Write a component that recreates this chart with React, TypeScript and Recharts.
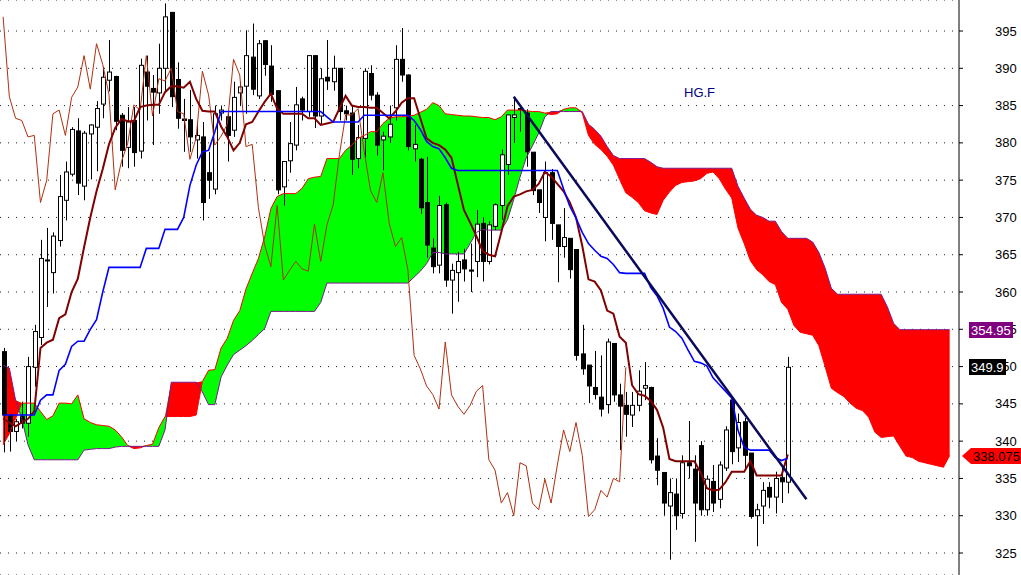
import {
  Area,
  Bar,
  CartesianGrid,
  ComposedChart,
  Line,
  ReferenceLine,
  XAxis,
  YAxis,
} from "recharts";

// HG.F daily candles (oldest first)
const opens = [
  352.0, 343.4, 341.3, 343.3, 342.4, 349.9, 353.9, 364.3, 362.6, 366.9,
  372.3, 375.8, 381.6, 374.2, 381.2, 382.1, 385.2, 388.4, 388.9, 383.7,
  379.4, 383.0, 378.9, 389.5, 387.3, 386.7, 390.0, 397.5, 388.5, 383.2,
  383.1, 380.4, 380.8, 376.0, 373.8, 384.0, 383.5, 381.7, 386.7, 387.6,
  391.5, 386.3, 393.7, 390.3, 387.0, 374.1, 377.6, 379.7, 385.9, 384.2,
  391.7, 383.6, 388.8, 388.2, 390.0, 384.3, 384.0, 377.9, 380.6, 389.3,
  386.4, 380.4, 380.8, 384.7, 391.2, 389.1, 379.2, 377.8, 372.0, 365.9,
  363.6, 371.7, 361.6, 362.6, 364.3, 362.95, 364.1, 369.2, 364.1, 368.8,
  371.6, 377.1, 383.4, 384.5, 384.0, 378.75, 373.7, 370.0, 376.0, 369.0,
  366.1, 367.2, 365.7, 351.7, 350.2, 347.2, 345.9, 344.9, 353.1, 346.2,
  344.8, 343.5, 344.8, 347.1, 347.2, 338.0, 335.8, 331.3, 332.9, 330.3,
  337.1, 336.25, 339.4, 330.8, 334.6, 332.2, 336.4, 345.5, 339.1, 342.6,
  338.4, 330.0, 331.3, 333.8, 332.5, 335.1, 334.5,
];
const highs = [
  352.5, 343.6, 343.0, 345.3, 351.3, 355.6, 367.0, 368.6, 368.0, 375.7,
  377.5, 382.1, 383.3, 381.6, 382.5, 385.6, 390.2, 393.8, 389.0, 384.0,
  384.8, 384.8, 391.3, 391.7, 389.1, 393.3, 398.7, 397.5, 390.8, 385.9,
  387.1, 382.8, 382.8, 378.8, 385.0, 385.0, 384.2, 388.2, 388.2, 395.1,
  396.0, 393.8, 393.8, 393.1, 387.0, 377.5, 382.8, 387.5, 386.2, 391.7,
  391.7, 390.0, 393.8, 391.7, 390.0, 385.0, 385.0, 382.4, 390.0, 390.4,
  386.8, 381.5, 385.0, 393.1, 395.4, 389.2, 382.4, 378.0, 378.1, 367.2,
  372.9, 372.0, 363.8, 365.4, 365.8, 366.5, 371.0, 370.0, 369.5, 371.9,
  379.1, 383.75, 386.2, 384.9, 384.5, 378.75, 373.7, 377.5, 376.5, 369.0,
  371.25, 367.2, 365.7, 355.6, 350.2, 352.1, 351.5, 353.75, 353.1, 347.7,
  346.6, 346.6, 349.5, 350.6, 347.3, 340.4, 335.8, 335.0, 335.0, 338.1,
  342.7, 338.1, 340.0, 335.4, 336.8, 337.3, 342.0, 345.8, 343.7, 343.1,
  338.4, 331.6, 334.5, 334.5, 335.9, 336.8, 351.3,
];
const lows = [
  338.5, 338.6, 340.0, 341.7, 340.6, 347.3, 352.9, 358.0, 359.8, 366.1,
  369.6, 375.5, 373.0, 372.3, 375.1, 376.2, 383.3, 386.9, 381.7, 376.8,
  376.6, 376.8, 377.9, 383.0, 379.7, 383.9, 386.7, 384.8, 381.9, 378.8,
  378.8, 377.9, 369.6, 372.5, 373.1, 383.0, 377.5, 380.8, 385.0, 383.9,
  386.4, 385.9, 389.0, 385.5, 373.1, 371.6, 376.0, 379.0, 383.0, 383.5,
  382.0, 382.4, 387.1, 387.0, 383.0, 383.0, 375.7, 376.6, 378.0, 385.7,
  378.3, 376.3, 380.0, 383.0, 388.2, 379.0, 377.5, 370.5, 364.6, 362.5,
  362.5, 360.7, 357.1, 358.7, 361.4, 360.0, 362.0, 361.4, 363.7, 368.3,
  369.7, 375.7, 380.0, 381.5, 376.8, 373.0, 370.6, 366.8, 367.0, 361.3,
  364.6, 361.8, 350.8, 348.9, 345.1, 345.6, 343.3, 343.7, 345.3, 338.8,
  340.6, 341.9, 344.0, 345.5, 337.0, 334.1, 330.1, 324.1, 328.1, 329.6,
  335.0, 326.5, 330.0, 330.0, 330.5, 331.0, 336.0, 336.9, 337.2, 336.3,
  329.6, 325.9, 328.9, 331.0, 330.3, 331.7, 333.0,
];
const closes = [
  343.5, 341.3, 342.6, 342.4, 350.0, 354.7, 364.5, 364.2, 367.5, 372.8,
  376.1, 381.8, 374.6, 381.3, 382.4, 384.6, 388.8, 389.5, 382.9, 379.0,
  382.8, 378.7, 390.4, 387.6, 386.8, 390.0, 396.9, 386.2, 383.3, 383.0,
  380.8, 381.0, 372.0, 375.0, 383.9, 384.4, 381.0, 386.1, 387.5, 391.7,
  387.2, 393.3, 390.5, 386.5, 373.7, 377.5, 379.9, 385.1, 384.4, 391.7,
  383.6, 388.6, 388.3, 390.0, 384.2, 383.9, 377.8, 380.7, 389.6, 386.4,
  379.7, 380.9, 382.5, 391.2, 389.1, 379.5, 379.8, 371.3, 366.3, 363.4,
  371.6, 361.6, 362.9, 364.1, 363.1, 362.8, 369.1, 364.1, 369.0, 371.7,
  378.4, 383.75, 383.75, 384.6, 378.8, 373.6, 372.0, 376.0, 369.2, 366.1,
  367.3, 363.0, 351.5, 349.7, 347.4, 346.25, 344.3, 353.3, 346.2, 344.7,
  343.6, 344.8, 346.7, 347.45, 337.5, 336.1, 331.7, 333.1, 330.0, 337.1,
  336.7, 331.7, 330.8, 334.9, 331.7, 336.8, 341.5, 338.6, 342.5, 338.1,
  329.9, 330.8, 333.4, 332.5, 335.0, 334.55, 349.9,
];

// conversion line (maroon) and base line (blue)
const tenkan = [
  343, 342.5, 342, 342.5, 343, 344, 352.5, 353.2, 353.6, 356.5,
  357, 360, 361.8, 366, 370, 373.5, 376.5, 379.8, 382, 383.2,
  382.9, 382.9, 384.8, 385, 385.1, 385.1, 386.8, 387.6, 387.6, 387.4,
  388.2, 385.9, 384.3, 384.2, 384.2, 382.2, 380.8, 379.0, 380, 382.5,
  382.8, 384.2, 385.5, 386.6, 384.6, 383.9, 383.9, 383.9, 383.9, 383.3,
  383.3, 382.4, 382.6, 382.8, 384.6, 386.3, 385, 384.8, 384.8, 384.7,
  384.7, 384.0, 383.3, 384.2, 385.4, 386, 386, 383.3, 380.6, 380,
  379.7, 379.1, 378, 374.5, 371, 369.3, 367.5, 365.5, 365, 364.8,
  368, 371.5, 372.8, 373.1, 373.5, 373.7, 374.5, 376.1, 375.5, 374.5,
  373.5, 372, 370, 366.2, 361.7, 361.4, 360.2, 357.5, 357.1, 354,
  353.2, 347.5, 346.3, 346.1, 345.4, 344.2, 341.8, 337.6, 337.3, 337.3,
  337.3, 337.3, 335.8, 333.7, 333.4, 333.5, 334.5, 335.9, 335.9, 335.9,
  337.3, 335.4, 335.4, 335.4, 335.4, 335.4, 338.2,
];
const kijun = [
  343.5, 343.5, 343.5, 343.5, 343.5, 343.5, 345.5, 346.2, 346.2, 349.5,
  350.3, 352.7, 353.4, 353.4, 355, 356.3, 360, 363.3, 363.3, 363.3,
  363.3, 363.3, 363.3, 365.85, 365.85, 365.85, 368.4, 368.4, 368.4, 370,
  374.3, 377, 378.8, 379, 381.5, 384.2, 384.2, 384.2, 384.2, 384.2,
  384.2, 384.2, 384.2, 384.2, 384.2, 384.2, 384.2, 384.2, 384.2, 384.2,
  384.2, 384.2, 383.5, 382.8, 382.8, 382.8, 382.8, 382.8, 383.7, 383.7,
  383.7, 383.7, 383.7, 383.7, 383.7, 383.7, 383.0, 381.8, 380.2, 379.5,
  379.2, 378.0, 376.6, 376.3, 376.3, 376.3, 376.3, 376.3, 376.3, 376.3,
  376.3, 376.3, 376.3, 376.3, 376.3, 376.3, 376.3, 376.3, 376.3, 376.3,
  373.8, 371.5, 369.9, 368.0, 366.5, 365.6, 364.8, 364.5, 363.7, 362.6,
  362.5, 362.5, 362.5, 362.5, 360.6, 359.5, 357.8, 355.3, 354.7, 353.8,
  352.2, 350.7, 350.5, 350.1, 348.5, 347.6, 346.7, 345.8, 341.5, 339.2,
  338.8, 338.8, 338.8, 338.8, 337.8, 337.4, 337.7,
];

// leading spans, already plotted 26 bars ahead
const spanA = [
  339.5, 341, 343, 345.1, 345.1, 345.1, 344, 342.9, 343.4, 345.1,
  345.1, 345, 346.2, 343, 342.5, 342.2, 342.1, 342, 341.5, 340.6,
  339.4, 339.0, 339.1, 339.4, 339.6, 341.8, 343.3, 343.3, 343.3, 343.3,
  343.3, 343.5, 348.0, 349.5, 349.6, 352.5, 353.8, 356.2, 357.5, 360.4,
  362.5, 364.5, 367.4, 371.2, 372.8, 373.2, 373.2, 373.2, 373.9, 375.2,
  375.4, 375.5, 377.9, 377.9, 377.9, 379.0, 379.7, 380.6, 381.0, 381.5,
  381.5, 382.6, 383.3, 383.5, 383.5, 383.6, 383.7, 384.1, 384.5, 385.4,
  385.0, 383.9, 383.8, 383.7, 383.6, 383.6, 383.5, 383.4, 383.4, 383.1,
  383.5, 384.4, 384.4, 384.4, 384.3, 384.2, 384.2, 384.0, 383.8, 383.9,
  384.5, 384.7, 384.7, 384.0, 381.0, 379.8, 379.1, 378.2, 377.0, 375.1,
  373.3, 372.7, 372.0, 370.9, 370.6, 370.4, 372.3, 373.4, 374.3, 374.7,
  374.8, 374.9, 375.2, 375.9, 376.1, 375.2, 373.8, 372.6, 368.6, 366.5,
  364.2, 363.0, 362.3, 361.4, 361.0, 358.6, 357.7, 355.5, 354.6, 354.4,
  354.2, 352.8, 350.0, 347.1, 346.5, 346.0, 345.1, 344.4, 344.1, 343.2,
  341.2, 340.5, 340.6, 340.7, 339.3, 338.0, 337.8, 337.3, 337.1, 336.9,
  336.7, 336.5, 338.075,
];
const spanB = [
  350.2, 349.8, 345.5, 343, 339.5, 337.5, 337.5, 337.5, 337.5, 337.5,
  337.5, 337.5, 337.5, 338.8, 338.9, 339, 339, 339, 339.2, 339.3,
  339.3, 339.3, 339.3, 339.3, 339.3, 339.3, 341.5, 347.9, 347.9, 347.9,
  347.9, 347.9, 346.6, 344.9, 344.9, 348.6, 350.2, 351.6, 352.2, 352.8,
  353.5, 354.3, 355.1, 357.4, 357.4, 357.4, 357.4, 357.4, 357.4, 357.4,
  357.4, 358.6, 361.2, 361.2, 361.2, 361.2, 361.2, 361.2, 361.2, 361.2,
  361.2, 361.2, 361.2, 361.2, 361.2, 361.2, 362.0, 362.8, 363.8, 365.3,
  365.3, 365.1, 365.1, 365.1, 365.1, 366.5, 368.0, 368.4, 368.3, 368.3,
  368.3, 369.7, 372.4, 375.4, 378.0, 379.6, 381.3, 383.5, 384.2, 384.2,
  384.2, 384.2, 384.2, 384.2, 382.5, 381.8, 380.9, 379.5, 378.3, 377.9,
  377.9, 377.9, 377.9, 377.9, 377.4, 376.8, 376.6, 376.6, 376.6, 376.6,
  376.6, 376.6, 376.6, 376.6, 376.6, 376.6, 376.6, 376.6, 374.2, 372.6,
  371.1, 370.3, 370.0, 369.5, 369.5, 368.1, 367.2, 367.2, 367.2, 367.2,
  366.7, 365.3, 363.2, 360.5, 359.7, 359.7, 359.7, 359.7, 359.7, 359.7,
  359.7, 359.7, 358.0, 355.8, 354.95, 354.95, 354.95, 354.95, 354.95, 354.95,
  354.95, 354.95, 354.95,
];

const yTicks = [325, 330, 335, 340, 345, 350, 355, 360, 365, 370, 375, 380, 385, 390, 395];
// last values shown in tags on the price axis
const tagValues = [354.95, 349.9, 338.075];
const tagTexts = ["354.95", "349.9", "338.075"];
const LAG = 26;
const SLOTS = 154;
const DOMAIN: [number, number] = [322.05, 399.16];
const FONT = "Liberation Sans, Arial, sans-serif";

// the lagging span is the close drawn 26 bars back
const rows = Array.from({ length: SLOTS }, (_, i) => {
  const a = spanA[i];
  const b = spanB[i];
  const hasCloud = a != null && b != null;
  const hasBar = i < closes.length;
  return {
    i,
    open: hasBar ? opens[i] : null,
    high: hasBar ? highs[i] : null,
    low: hasBar ? lows[i] : null,
    close: hasBar ? closes[i] : null,
    hl: hasBar ? [lows[i], highs[i]] : null,
    tenkan: hasBar ? tenkan[i] : null,
    kijun: hasBar ? kijun[i] : null,
    chikou: i + LAG < closes.length ? closes[i + LAG] : null,
    spanA: hasCloud ? a : null,
    spanB: hasCloud ? b : null,
    green: hasCloud ? [b, Math.max(a, b)] : null,
    red: hasCloud ? [a, Math.max(a, b)] : null,
  };
});

const Candle = (props: any) => {
  const { x, y, width, height, payload } = props;
  if (!payload || payload.open == null) return null;
  const { open, close, high, low } = payload;
  const top0 = Math.min(y, y + height);
  const h = Math.abs(height);
  const ppu = high > low ? h / (high - low) : 0;
  const cx = Math.round(x + width / 2) + 0.5;
  const yOf = (v: number) => top0 + (high - v) * ppu;
  const bTop = yOf(Math.max(open, close));
  const bBot = yOf(Math.min(open, close));
  const up = close >= open;
  return (
    <g>
      <line x1={cx} x2={cx} y1={top0} y2={top0 + h} stroke="#000" strokeWidth={1} />
      <rect
        x={cx - 2}
        y={bTop}
        width={4}
        height={Math.max(1, bBot - bTop)}
        fill={up ? "#fff" : "#000"}
        stroke="#000"
        strokeWidth={1}
      />
    </g>
  );
};

// price tags drawn as the ticks of a second, zero-width axis (on top of the price labels)
const TagTick = (props: any) => {
  const { y, payload } = props;
  const v = Number(payload?.value);
  const k = tagValues.findIndex((t) => Math.abs(t - v) < 1e-6);
  if (k < 0 || y == null) return null;
  const yc = Math.round(y);
  const text = tagTexts[k];
  if (k === 2) {
    const l = 962;
    return (
      <g>
        <polygon
          points={`${l},${yc} ${l + 9},${yc - 8} ${l + 59},${yc - 8} ${l + 59},${yc + 8} ${l + 9},${yc + 8}`}
          fill="#ff0000"
        />
        <text x={l + 11} y={yc + 5} fill="#000" fontSize={13} fontFamily={FONT}>
          {text}
        </text>
      </g>
    );
  }
  const bg = k === 0 ? "#800080" : "#000";
  const w = k === 0 ? 44 : 37;
  return (
    <g>
      <rect x={969} y={yc - 8} width={w} height={16} fill={bg} />
      <text x={971} y={yc + 5} fill="#fff" fontSize={13} fontFamily={FONT}>
        {text}
      </text>
    </g>
  );
};

export default function App() {
  return (
    <div style={{ position: "absolute", left: 0, top: 0, width: 1021, height: 575, background: "#fff" }}>
      <ComposedChart width={1021} height={575} data={rows} margin={{ top: 0, right: 0, bottom: 0, left: 0 }}>
        <CartesianGrid horizontal vertical={false} stroke="#222" strokeDasharray="1 7" />
        <XAxis dataKey="i" type="category" hide />
        <YAxis
          orientation="right"
          width={61}
          domain={DOMAIN}
          allowDataOverflow
          ticks={yTicks}
          interval={0}
          axisLine={{ stroke: "#000" }}
          tickLine={{ stroke: "#000" }}
          tickSize={4}
          tickMargin={32}
          tick={{ fill: "#000", fontSize: 13, fontFamily: FONT }}
        />
        <YAxis
          yAxisId="tags"
          orientation="right"
          width={1}
          domain={DOMAIN}
          allowDataOverflow
          ticks={tagValues}
          interval={0}
          axisLine={false}
          tickLine={false}
          tickSize={0}
          tickMargin={0}
          tick={(p: any) => <TagTick {...p} />}
        />
        <Area dataKey="green" type="linear" stroke="none" fill="#00ff00" fillOpacity={1} isAnimationActive={false} dot={false} activeDot={false} />
        <Area dataKey="red" type="linear" stroke="none" fill="#ff0000" fillOpacity={1} isAnimationActive={false} dot={false} activeDot={false} />
        <Line dataKey="spanA" type="linear" stroke="#ff0000" strokeWidth={1} dot={false} activeDot={false} isAnimationActive={false} />
        <Line dataKey="spanB" type="linear" stroke="#7a1a8a" strokeWidth={1} dot={false} activeDot={false} isAnimationActive={false} />
        <Line yAxisId="tags" dataKey="spanB" type="linear" stroke="none" strokeWidth={0} dot={false} activeDot={false} isAnimationActive={false} />
        <Line dataKey="chikou" type="linear" stroke="#b03010" strokeWidth={1} dot={false} activeDot={false} isAnimationActive={false} />
        <Bar dataKey="hl" barSize={5} shape={<Candle />} isAnimationActive={false} />
        <Line dataKey="tenkan" type="linear" stroke="#800000" strokeWidth={2} dot={false} activeDot={false} isAnimationActive={false} />
        <Line dataKey="kijun" type="linear" stroke="#0000ff" strokeWidth={1.6} dot={false} activeDot={false} isAnimationActive={false} />
        <ReferenceLine
          segment={[
            { x: 82, y: 386.2 },
            { x: 129, y: 332.2 },
          ]}
          stroke="#0a0a5a"
          strokeWidth={2.5}
        />
      </ComposedChart>
      <div
        style={{
          position: "absolute",
          left: 684,
          top: 85,
          color: "#000080",
          fontSize: 13,
          fontFamily: FONT,
        }}
      >
        HG.F
      </div>
    </div>
  );
}
